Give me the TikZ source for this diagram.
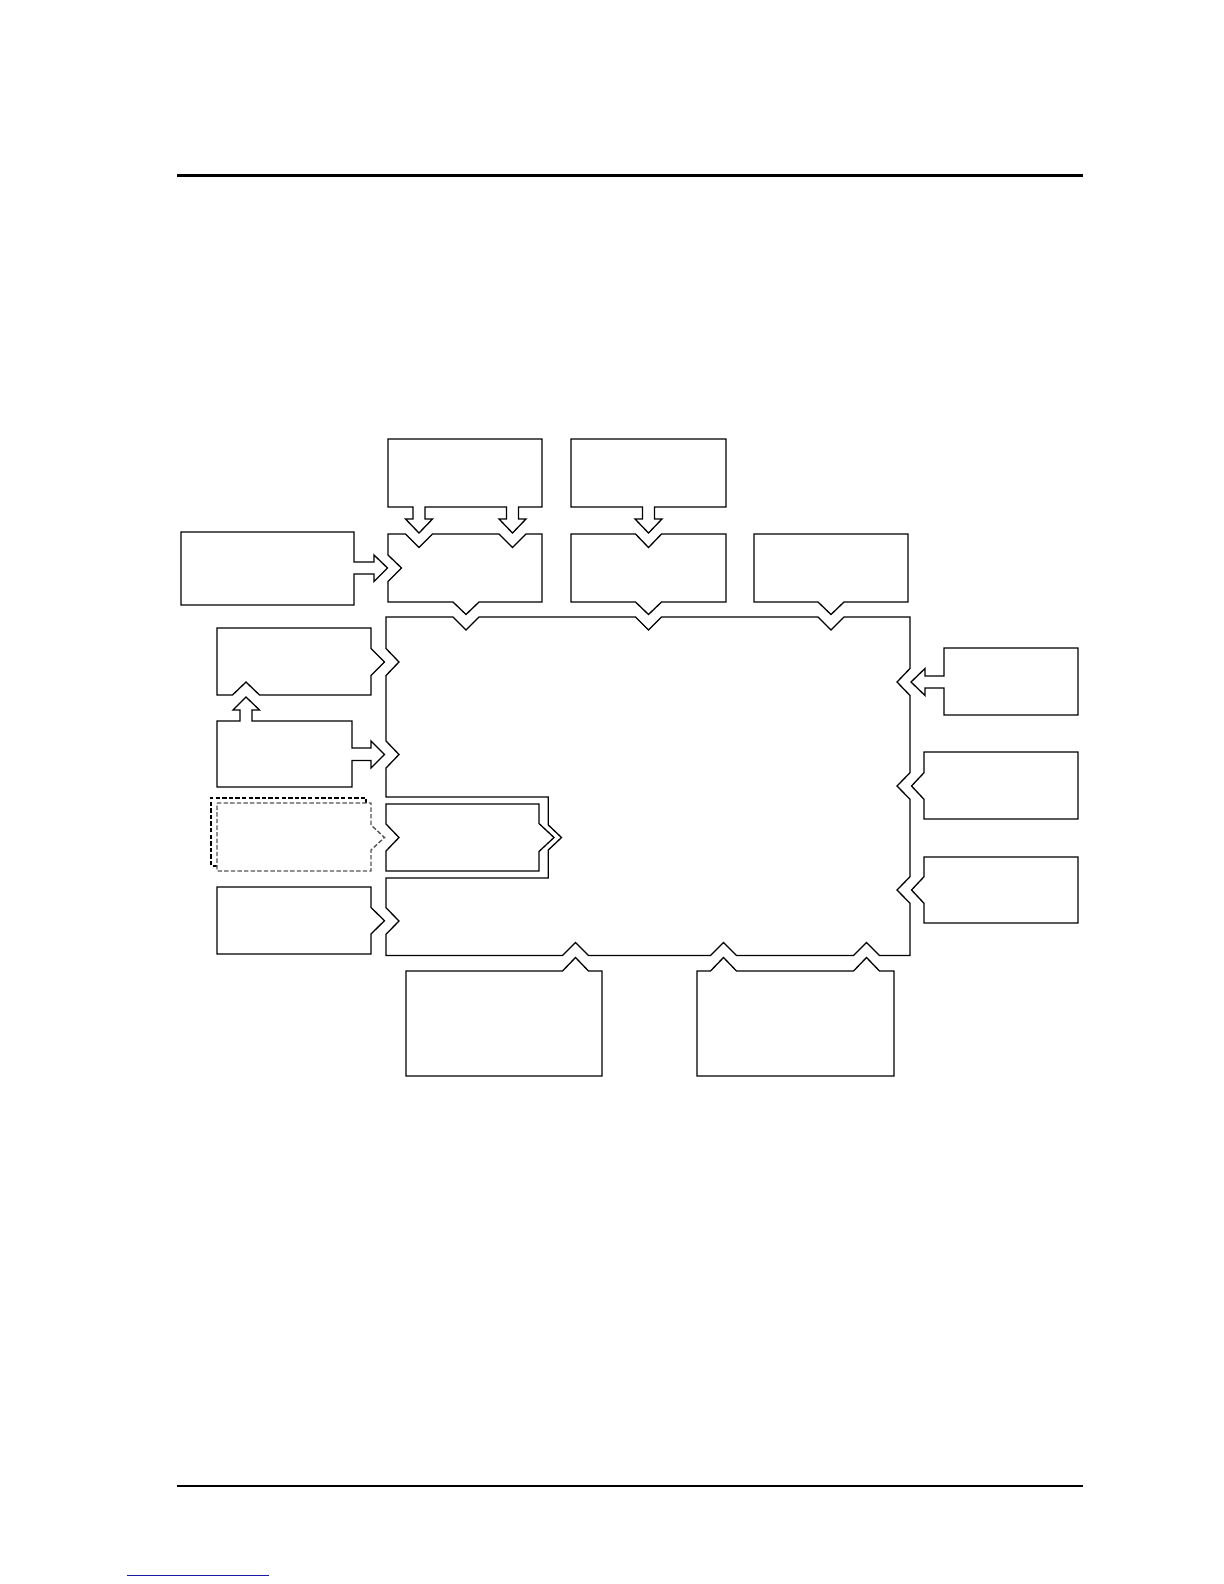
\documentclass[tikz,border=0pt]{standalone}
\usetikzlibrary{calc}
\definecolor{linkblue}{RGB}{25,25,170}
\definecolor{dashgray}{RGB}{85,85,85}
\tikzset{
  outl/.style={draw=black, line width=0.65pt, line join=miter},
  dashoutl/.style={draw=black, line width=0.85pt, dash pattern=on 2.2pt off 1.1pt},
  dashgrayoutl/.style={draw=dashgray, line width=0.7pt, dash pattern=on 2.2pt off 1.1pt},
  toprule/.style={draw=black, line width=1.65pt},
  botrule/.style={draw=black, line width=0.65pt},
  linkrule/.style={draw=linkblue, line width=0.6pt}
}
\begin{document}
\begin{tikzpicture}[x=0.5pt,y=-0.5pt]
\useasboundingbox (0,0) rectangle (1224,1584);
\fill[white] (0,0) rectangle (1224,1584);

% page rules
\draw[toprule] (177,175.3) -- (1083,175.3);
\draw[botrule] (177,1486) -- (1083,1486);
\draw[linkrule] (127,1575.3) -- (269,1575.3);

% main central block (wraps around box G)
\draw[outl] (386,617) -- (453,617) -- (466,630) -- (479,617)
  -- (635.5,617) -- (648.5,630) -- (661.5,617)
  -- (818,617) -- (831,630) -- (844,617) -- (910,617)
  -- (910,668.5) -- (897,682) -- (910,695.5)
  -- (910,772.7) -- (897,786) -- (910,799.3)
  -- (910,876.7) -- (897,890) -- (910,903.3)
  -- (910,955.5)
  -- (879.5,955.5) -- (866.5,942.5) -- (853.5,955.5)
  -- (736.5,955.5) -- (723.5,942.5) -- (710.5,955.5)
  -- (588.5,955.5) -- (575.5,942.5) -- (562.5,955.5)
  -- (386,955.5)
  -- (386,934.3) -- (399,921) -- (386,907.7)
  -- (386,878) -- (548.3,878) -- (548.3,850) -- (561.5,837.5) -- (548.3,825)
  -- (548.3,797) -- (386,797)
  -- (386,768) -- (399,754.5) -- (386,741)
  -- (386,675.5) -- (399,662) -- (386,648.5)
  -- cycle;

% box A (top left, two arrows down)
\draw[outl] (388,439) -- (542,439) -- (542,507)
  -- (518.5,507) -- (518.5,519) -- (526,519) -- (512.5,533) -- (499,519) -- (506.5,519) -- (506.5,507)
  -- (425,507) -- (425,519) -- (432.5,519) -- (419,533) -- (405.5,519) -- (413,519) -- (413,507)
  -- (388,507) -- cycle;

% box B
\draw[outl] (388,534) -- (405.5,534) -- (419,547.5) -- (432.5,534)
  -- (499,534) -- (512.5,547.5) -- (526,534) -- (542,534)
  -- (542,602) -- (479,602) -- (466,614.5) -- (453,602) -- (388,602)
  -- (388,581.5) -- (401.5,568) -- (388,555) -- cycle;

% box C (left, arrow right)
\draw[outl] (181,532) -- (354,532) -- (354,562) -- (374,562) -- (374,555)
  -- (387.5,568) -- (374,581.5) -- (374,574) -- (354,574) -- (354,605)
  -- (181,605) -- cycle;

% box L (top middle, arrow down)
\draw[outl] (571,439) -- (726,439) -- (726,507)
  -- (654.5,507) -- (654.5,519) -- (662,519) -- (648.5,533) -- (635,519) -- (642.5,519) -- (642.5,507)
  -- (571,507) -- cycle;

% box M
\draw[outl] (571,534) -- (635.5,534) -- (648.5,547.5) -- (661.5,534) -- (726,534)
  -- (726,602) -- (661.5,602) -- (648.5,614.5) -- (635.5,602) -- (571,602) -- cycle;

% box N
\draw[outl] (754,534) -- (908,534) -- (908,602)
  -- (844,602) -- (831,614.5) -- (818,602) -- (754,602) -- cycle;

% box E
\draw[outl] (217,628) -- (371,628) -- (371,648.5) -- (384.5,662) -- (371,675.5)
  -- (371,695) -- (259.5,695) -- (246,682) -- (232.5,695) -- (217,695) -- cycle;

% box F (arrow up, arrow right)
\draw[outl] (217,721) -- (240,721) -- (240,710) -- (233,710) -- (246,697) -- (259.5,710)
  -- (252,710) -- (252,721) -- (352,721) -- (352,748) -- (371,748) -- (371,741)
  -- (384.5,754.5) -- (371,768) -- (371,760.5) -- (352,760.5) -- (352,787)
  -- (217,787) -- cycle;

% box H (dashed, with shadow)
\draw[dashoutl] (217,865.7) -- (210.7,865.7) -- (210.7,797.7) -- (365.7,797.7) -- (365.7,803);
\draw[dashgrayoutl] (217,803) -- (371,803) -- (371,825) -- (384.5,837.5) -- (371,850)
  -- (371,871) -- (217,871) -- cycle;

% box G (inside wrap)
\draw[outl] (386,804) -- (539,804) -- (539,823.5) -- (554,837.5) -- (539,851.5)
  -- (539,871) -- (386,871) -- (386,851) -- (399,837.5) -- (386,824) -- cycle;

% box I
\draw[outl] (217,887) -- (371,887) -- (371,907.5) -- (384.5,920.7) -- (371,934)
  -- (371,954) -- (217,954) -- cycle;

% box R (right top, arrow left)
\draw[outl] (944,648) -- (1078,648) -- (1078,715) -- (944,715) -- (944,688)
  -- (925,688) -- (925,695.5) -- (911,682) -- (925,668.5) -- (925,676) -- (944,676) -- cycle;

% box P
\draw[outl] (924,752) -- (1078,752) -- (1078,819) -- (924,819)
  -- (924,799.3) -- (911.5,786) -- (924,772.7) -- cycle;

% box Q
\draw[outl] (924,857) -- (1078,857) -- (1078,923) -- (924,923)
  -- (924,903.3) -- (911.5,890) -- (924,876.7) -- cycle;

% box J (bottom left)
\draw[outl] (406,971) -- (562.5,971) -- (575.5,957.5) -- (588.5,971) -- (602,971)
  -- (602,1076) -- (406,1076) -- cycle;

% box K (bottom right)
\draw[outl] (697,971) -- (710.5,971) -- (723.5,957.5) -- (736.5,971)
  -- (853.5,971) -- (866.5,957.5) -- (879.5,971) -- (894,971)
  -- (894,1076) -- (697,1076) -- cycle;
\end{tikzpicture}
\end{document}
